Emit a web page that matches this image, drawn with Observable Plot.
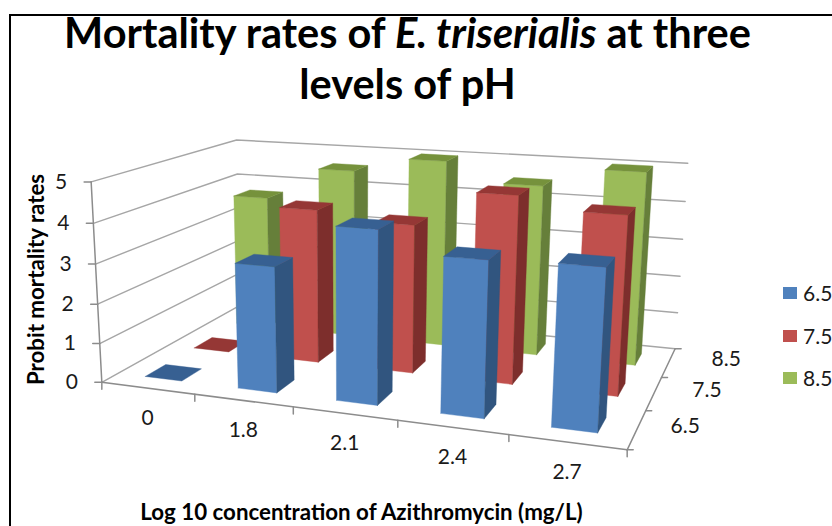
<!DOCTYPE html>
<html><head><meta charset="utf-8">
<script src="https://cdn.jsdelivr.net/npm/d3@7"></script>
<script src="https://cdn.jsdelivr.net/npm/@observablehq/plot@0.6"></script>
<style>
html,body{margin:0;padding:0;background:#fff;overflow:hidden}
#wrap{position:relative;width:832px;height:526px;overflow:hidden;font-family:Lato,sans-serif;color:#000}
#frameT{position:absolute;left:9px;top:14px;right:0;height:1.5px;background:#000}
#frameL{position:absolute;left:9px;top:14px;bottom:0;width:1.5px;background:#000}
#title{position:absolute;left:0;top:7px;width:815px;text-align:center;font-weight:700;font-size:41.5px;line-height:51px;white-space:nowrap}
#legend div{position:absolute;left:783px;width:14px;height:12px}
#legend span{position:absolute;left:803px;font-size:21px;line-height:24px;color:#1a1a1a}
svg{position:absolute;left:0;top:0}
</style></head><body>
<div id="wrap">
<div id="frameT"></div><div id="frameL"></div>
<div id="chart"></div>
<div id="title">Mortality rates of <i>E. triserialis</i> at three<br>levels of pH</div>
<div id="legend"></div>
</div>
<script>
const categories = ["0","1.8","2.1","2.4","2.7"];
const seriesNames = ["6.5","7.5","8.5"];
const ph65 = [0, 3.12, 4.2, 3.7, 3.75];
const ph75 = [0, 4.0, 3.8, 4.7, 4.4];
const ph85 = [3.7, 4.6, 5.0, 4.5, 5.0];
const zTicks = [0,1,2,3,4,5];
const palette = {
  "6.5": {front:"#4F81BD", side:"#31557F", top:"#376092"},
  "7.5": {front:"#C0504D", side:"#7D2E2C", top:"#953735"},
  "8.5": {front:"#9BBB59", side:"#667F3A", top:"#76923C"}
};
// Camera calibration: where the eight corners of the chart box fall in the picture.
const camera = [
  [0,0,0,103,381],[1,0,0,627,450],[1,1,0,675,347],[0,1,0,238,306],
  [0,0,1,89,180],[1,0,1,640,220],[1,1,1,687,162],[0,1,1,238,140]
];
function solve(A,b){
  const n=b.length, M=A.map((r,i)=>[...r,b[i]]);
  for(let c=0;c<n;c++){
    let p=c; for(let r=c+1;r<n;r++) if(Math.abs(M[r][c])>Math.abs(M[p][c])) p=r;
    [M[c],M[p]]=[M[p],M[c]];
    for(let r=0;r<n;r++) if(r!==c){const f=M[r][c]/M[c][c]; for(let k=c;k<=n;k++) M[r][k]-=f*M[c][k];}
  }
  return M.map((r,i)=>r[n]/r[i]);
}
const rows=[],rhs=[];
for(const [u,v,w,x,y] of camera){
  rows.push([u,v,w,1,0,0,0,0,-x*u,-x*v,-x*w]); rhs.push(x);
  rows.push([0,0,0,0,u,v,w,1,-y*u,-y*v,-y*w]); rhs.push(y);
}
const AtA=Array.from({length:11},(_,i)=>Array.from({length:11},(_,j)=>d3.sum(rows,r=>r[i]*r[j])));
const Atb=Array.from({length:11},(_,i)=>d3.sum(rows,(r,k)=>r[i]*rhs[k]));
const m=solve(AtA,Atb);
function project(u,v,val){
  const w=val/5, d=m[8]*u+m[9]*v+m[10]*w+1;
  return {x:(m[0]*u+m[1]*v+m[2]*w+m[3])/d, y:(m[4]*u+m[5]*v+m[6]*w+m[7])/d};
}
const values=[ph65,ph75,ph85];
const barShare=0.4;
const faces=[];
function face(id,color,corners){
  corners.concat([corners[0]]).forEach(([u,v,z])=>faces.push({id,color,...project(u,v,z)}));
}
for(let s=seriesNames.length-1;s>=0;s--){
  const pal=palette[seriesNames[s]];
  categories.forEach((c,i)=>{
    const val=values[s][i];
    const u0=(i+.5-barShare/2)/categories.length,u1=(i+.5+barShare/2)/categories.length;
    const v0=(s+.5-barShare/2)/seriesNames.length,v1=(s+.5+barShare/2)/seriesNames.length;
    const key=s+"-"+i;
    if(val>0){
      face(key+"f",pal.front,[[u0,v0,0],[u1,v0,0],[u1,v0,val],[u0,v0,val]]);
      face(key+"s",pal.side,[[u1,v0,0],[u1,v1,0],[u1,v1,val],[u1,v0,val]]);
    }
    face(key+"t",pal.top,[[u0,v0,val],[u1,v0,val],[u1,v1,val],[u0,v1,val]]);
  });
}
const wall=[];
zTicks.forEach(z=>{
  [[0,0],[0,1],[1,1]].forEach(([u,v])=>wall.push({id:"g"+z,...project(u,v,z)}));
});
const axisLines=[];
const seg=(id,a,b)=>{axisLines.push({id,...project(...a)},{id,...project(...b)});};
seg("zaxis",[0,0,0],[0,0,5]);
seg("xaxis",[0,0,0],[1,0,0]);
seg("saxis",[1,0,0],[1,1,0]);
zTicks.forEach(z=>{const p=project(0,0,z);axisLines.push({id:"zt"+z,...p},{id:"zt"+z,x:p.x-7,y:p.y});});
d3.range(categories.length+1).forEach(i=>{const p=project(i/categories.length,0,0);axisLines.push({id:"xt"+i,...p},{id:"xt"+i,x:p.x,y:p.y+7});});
d3.range(seriesNames.length+1).forEach(i=>{const p=project(1,i/seriesNames.length,0);axisLines.push({id:"st"+i,...p},{id:"st"+i,x:p.x+6,y:p.y});});
const xLabels=categories.map((label,i)=>({label,...project((i+.5)/categories.length,0,0)}));
const sLabels=seriesNames.map((label,i)=>{const v=(i+.5)/seriesNames.length,p=project(1,v,0);return {label,x:p.x+46+14*v,y:p.y-3};});
const zLabels=zTicks.map(z=>({label:String(z),...project(0,0,z)}));
const tick={fontSize:21,fill:"#1a1a1a",fontFamily:"Lato,sans-serif"};
const axisTitle={fontSize:22.3,fontWeight:700,fontFamily:"Lato,sans-serif"};
const chart=Plot.plot({
  width:832,height:526,margin:0,
  x:{type:"identity",axis:null},y:{type:"identity",axis:null},
  color:{type:"identity"},
  style:{background:"transparent",overflow:"visible"},
  marks:[
    Plot.line(wall,{x:"x",y:"y",z:"id",stroke:"#A6A6A6",strokeWidth:1.4,curve:"linear"}),
    Plot.line(axisLines,{x:"x",y:"y",z:"id",stroke:"#8C8C8C",strokeWidth:1.5,curve:"linear"}),
    Plot.line(faces,{x:"x",y:"y",z:"id",fill:"color",stroke:"color",strokeWidth:0.4,curve:"linear"}),
    Plot.text(xLabels,{x:"x",y:"y",text:"label",dy:30,...tick}),
    Plot.text(sLabels,{x:"x",y:"y",text:"label",...tick}),
    Plot.text(zLabels,{x:"x",y:"y",text:"label",dx:-30,...tick}),
    Plot.text(["Probit mortality rates"],{x:()=>36,y:()=>279,text:d=>d,rotate:-90,...axisTitle}),
    Plot.text(["Log 10 concentration of Azithromycin (mg/L)"],{x:()=>361,y:()=>512,text:d=>d,...axisTitle})
  ]
});
document.getElementById("chart").appendChild(chart);
const legend=document.getElementById("legend");
seriesNames.forEach((n,i)=>{
  const top=287+42.5*i;
  const box=document.createElement("div");box.style.top=top+"px";box.style.background=palette[n].front;legend.appendChild(box);
  const t=document.createElement("span");t.style.top=(top-6)+"px";t.textContent=n;legend.appendChild(t);
});
</script>
</body></html>
